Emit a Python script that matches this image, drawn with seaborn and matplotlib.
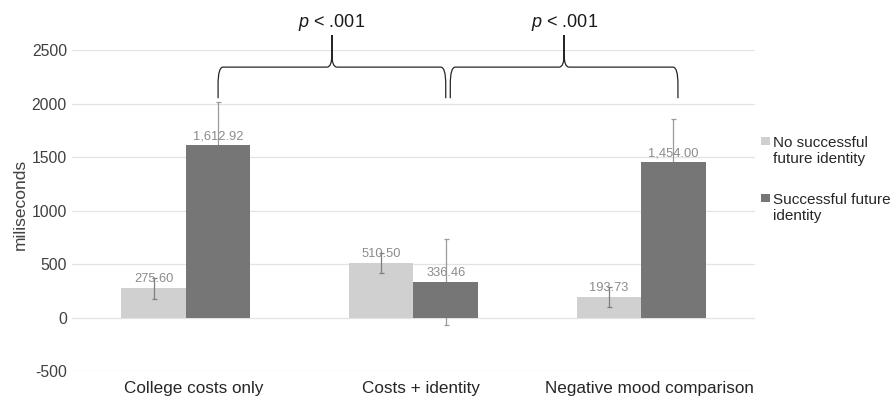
import numpy as np
import pandas as pd
import matplotlib.pyplot as plt
import matplotlib.transforms as mtransforms
import seaborn as sns
from matplotlib.path import Path
from matplotlib.patches import PathPatch, Rectangle

# --- data ---
conditions = ["College costs only", "Costs + identity", "Negative mood comparison"]
groups = ["No successful future identity", "Successful future identity"]
legend_labels = ["No successful\nfuture identity", "Successful future\nidentity"]
no_identity_ms = [275.60, 510.50, 193.73]
identity_ms = [1612.92, 336.46, 1454.00]
no_identity_err = [98, 96, 97]
identity_err = [403, 403, 406]
p_labels = ["$p$ < .001", "$p$ < .001"]

LIGHT = "#cfd0cf"
DARK = "#767676"
LABEL_GREY = "#8c8c8c"

df = pd.DataFrame({
    "condition": conditions * 2,
    "group": [groups[0]] * 3 + [groups[1]] * 3,
    "ms": no_identity_ms + identity_ms,
})

sns.set_theme(style="white")
plt.rcParams["font.family"] = ["Liberation Sans", "DejaVu Sans"]
plt.rcParams["mathtext.fontset"] = "custom"
plt.rcParams["mathtext.it"] = "Liberation Sans:italic"
plt.rcParams["mathtext.rm"] = "Liberation Sans"
plt.rcParams["axes.unicode_minus"] = False

fig = plt.figure(figsize=(8.93, 3.97), dpi=100)
ax = fig.add_axes([0.0806, 0.0647, 0.7648, 0.8094])

sns.barplot(data=df, x="condition", y="ms", hue="group", order=conditions,
            hue_order=groups, palette=[LIGHT, DARK], width=0.567, gap=0,
            saturation=1, errorbar=None, legend=False, linewidth=0,
            ax=ax, zorder=2)

# error bars + value labels on each bar (dark-series errors sit behind bars)
for cont, vals, errs, ecol, z in zip(ax.containers, [no_identity_ms, identity_ms],
                                      [no_identity_err, identity_err],
                                      ["#7f7f7f", "#9a9a9a"], [4, 1.5]):
    xs = [p.get_x() + p.get_width() / 2 for p in cont.patches]
    ax.bar_label(cont, labels=[f"{v:,.2f}" for v in vals], padding=2,
                 color=LABEL_GREY, fontsize=9.3, zorder=3)
    ax.errorbar(xs, vals, yerr=errs, fmt="none", ecolor=ecol,
                elinewidth=0.9, capsize=1.8, capthick=0.9, zorder=z)

ax.set_xlim(-0.5, 2.5)
ax.set_ylim(-500, 2500)
ax.set_yticks(np.arange(-500, 2501, 500))
ax.yaxis.grid(True, color="#e3e3e3", linewidth=0.9, zorder=0)
ax.set_axisbelow(True)
for s in ax.spines.values():
    s.set_visible(False)
ax.tick_params(axis="y", length=0, pad=3.6, labelsize=11.3, labelcolor="#404040")
ax.tick_params(axis="x", length=0, pad=7, labelsize=12.3, labelcolor="#262626")
# Excel puts the category labels a little right of the group centre
shift = mtransforms.ScaledTranslation(8 / 100, 0, fig.dpi_scale_trans)
for lbl in ax.get_xticklabels():
    lbl.set_transform(lbl.get_transform() + shift)
ax.set_xlabel("")
ax.set_ylabel("miliseconds", fontsize=12.5, color="#404040")
ax.yaxis.set_label_coords(-0.064, 0.52)


def brace(ax, x0, x1, y0, yh, yt, d=0.022):
    xm = (x0 + x1) / 2
    yc = y0 + 0.45 * (yh - y0)
    ym = yh + 0.4 * (yt - yh)
    verts = [(x0, y0), (x0, yc), (x0, yh), (x0 + d, yh),
             (xm - d, yh), (xm, yh), (xm, ym), (xm, yt),
             (xm, ym), (xm, yh), (xm + d, yh),
             (x1 - d, yh), (x1, yh), (x1, yc), (x1, y0)]
    codes = [Path.MOVETO, Path.LINETO, Path.CURVE3, Path.CURVE3,
             Path.LINETO, Path.CURVE3, Path.CURVE3, Path.LINETO,
             Path.LINETO, Path.CURVE3, Path.CURVE3,
             Path.LINETO, Path.CURVE3, Path.CURVE3, Path.LINETO]
    ax.add_patch(PathPatch(Path(verts, codes), fill=False, edgecolor="#262626",
                           linewidth=0.9, clip_on=False, zorder=5))
    return xm


dark_x = [p.get_x() + p.get_width() / 2 for p in ax.containers[1].patches]
spans = [(dark_x[0], dark_x[1]), (dark_x[1] + 0.02, dark_x[2] + 0.02)]
for (a, b), lab in zip(spans, p_labels):
    xm = brace(ax, a, b, 2050, 2340, 2640)
    ax.text(xm, 2755, lab, ha="center", va="center", fontsize=13,
            color="#1a1a1a", clip_on=False)

# legend, Excel style (swatch next to first line)
for col, lab, top in zip([LIGHT, DARK], legend_labels, [0.658, 0.515]):
    fig.add_artist(Rectangle((760.7 / 893, top - 0.024), 9.3 / 893, 8 / 397,
                             transform=fig.transFigure, facecolor=col,
                             edgecolor="none"))
    fig.text(773 / 893, top, lab, ha="left", va="top", fontsize=11,
             color="#262626", linespacing=1.2)

fig.savefig("out.png", dpi=100)
